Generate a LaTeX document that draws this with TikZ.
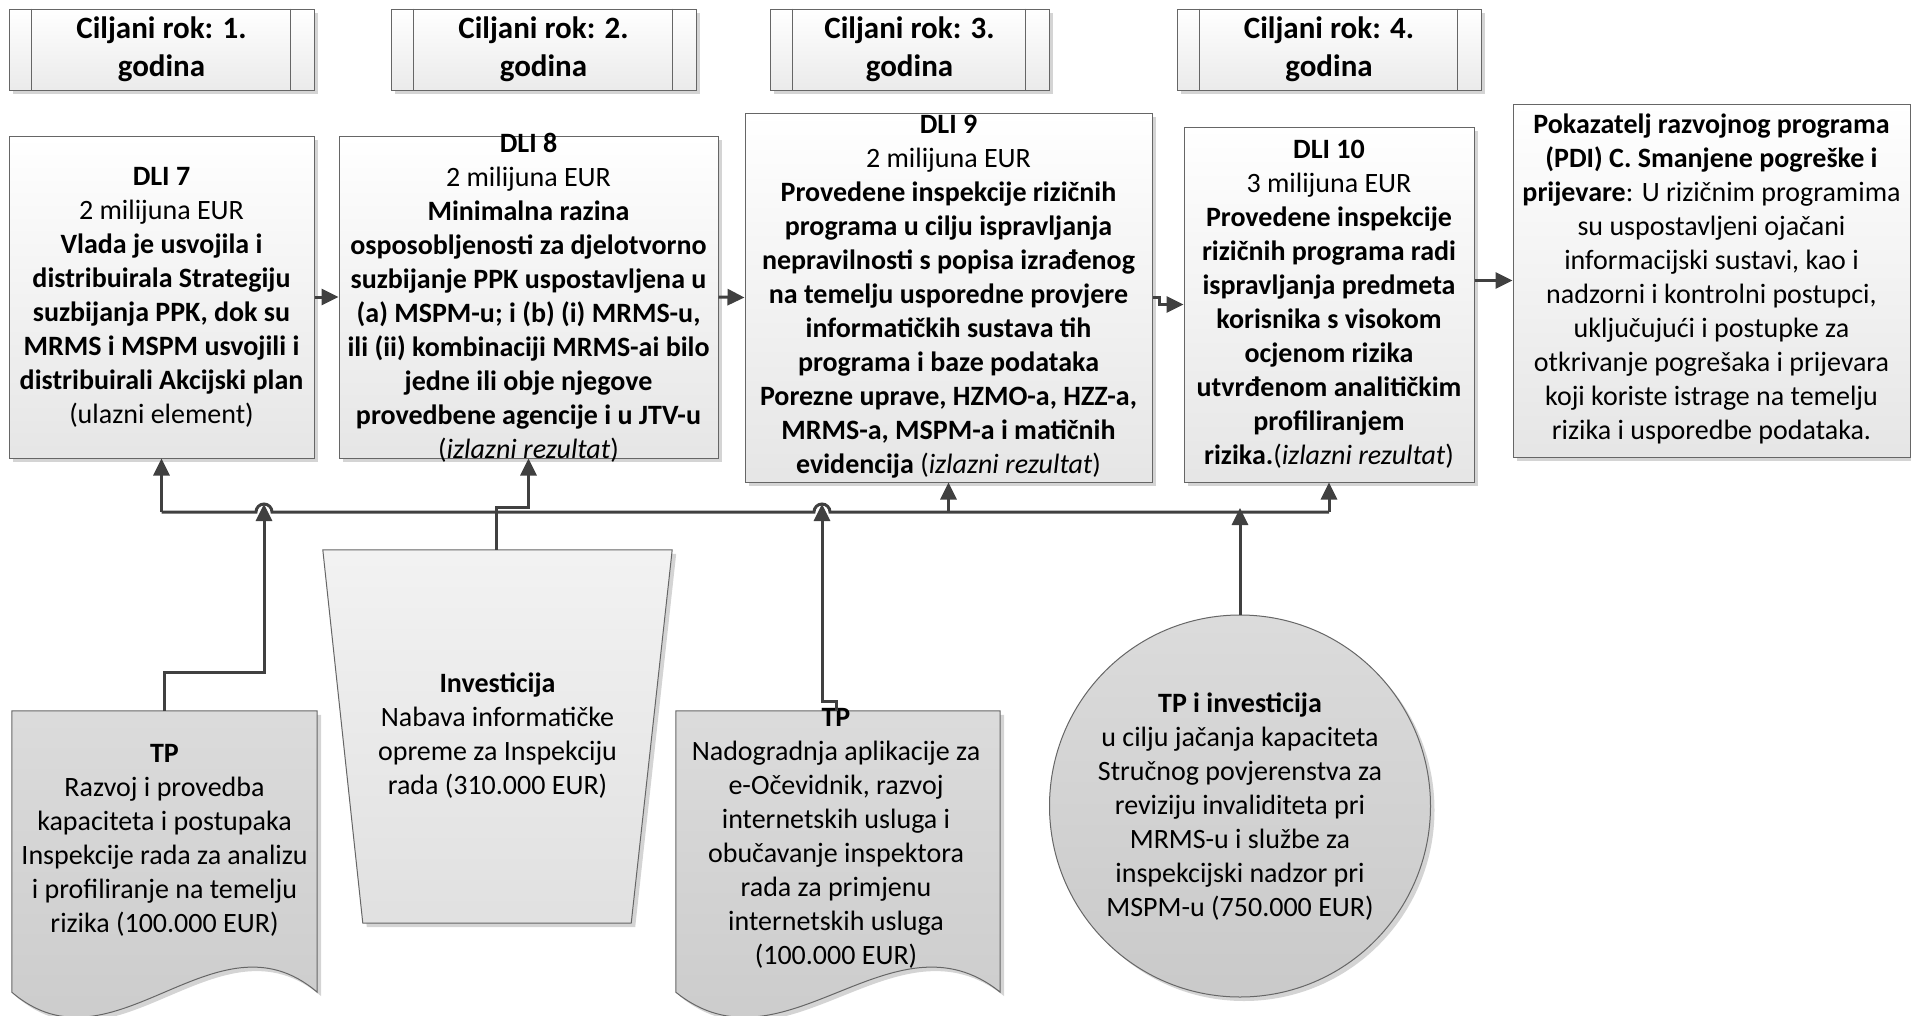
\documentclass[tikz,border=0pt]{standalone}
\usepackage{fontspec}
\setmainfont{Carlito}
\usetikzlibrary{arrows.meta,shapes.geometric,shadows}
\begin{document}
\begin{tikzpicture}[x=1pt,y=-1pt,
  shadowed/.style={drop shadow={fill=black!17, opacity=1, shadow xshift=4pt, shadow yshift=-4pt}},
  dlibox/.style={shadowed, draw=black!60, line width=1pt, top color=white, bottom color=black!10, inner sep=0pt},
  titlebox/.style={shadowed, draw=black!60, line width=1pt, top color=white, bottom color=black!8, inner sep=0pt, align=center, font=\fontsize{31}{38}\selectfont\bfseries},
  innerline/.style={draw=black!60, line width=1pt},
  txt/.style={align=center, inner sep=0pt, font=\fontsize{28}{34}\selectfont},
  darkshape/.style={draw=black!60, line width=1pt, top color=black!14, bottom color=black!21},
  conn/.style={draw=black!75, line width=3pt, -{Triangle[length=17pt,width=16pt]}},
  wire/.style={draw=black!75, line width=3pt},
]
\useasboundingbox (0,0) rectangle (1911,1015);

% ---- title boxes
\node[titlebox, minimum width=305pt, minimum height=81pt] (t1) at (161.5,49.5) {Ciljani rok: 1.\\godina};
\node[titlebox, minimum width=305pt, minimum height=81pt] (t2) at (543.5,49.5) {Ciljani rok: 2.\\godina};
\node[titlebox, minimum width=279pt, minimum height=81pt] (t3) at (909.5,49.5) {Ciljani rok: 3.\\godina};
\node[titlebox, minimum width=304pt, minimum height=81pt] (t4) at (1329,49.5) {Ciljani rok: 4.\\godina};
\foreach \t in {t1,t2,t3,t4}{
  \draw[innerline] ([xshift=23pt]\t.north west) -- ([xshift=23pt]\t.south west);
  \draw[innerline] ([xshift=-24pt]\t.north east) -- ([xshift=-24pt]\t.south east);
}

% ---- DLI boxes
\node[dlibox, minimum width=305pt, minimum height=322pt] (dli7) at (161.5,297) {};
\node[dlibox, minimum width=379pt, minimum height=322pt] (dli8) at (528.5,297) {};
\node[dlibox, minimum width=407pt, minimum height=369pt] (dli9) at (948.5,297.5) {};
\node[dlibox, minimum width=290pt, minimum height=355pt] (dli10) at (1329,304.5) {};
\node[dlibox, minimum width=397pt, minimum height=353pt] (pdi) at (1711.5,280.5) {};

\node[txt] (dli7t) at (161.5,297) {\textbf{DLI 7}\\2 milijuna EUR\\\textbf{Vlada je usvojila i}\\\textbf{distribuirala Strategiju}\\\textbf{suzbijanja PPK, dok su}\\\textbf{MRMS i MSPM usvojili i}\\\textbf{distribuirali Akcijski plan}\\(ulazni element)};
\node[txt] (dli8t) at (528.5,298) {\textbf{DLI 8}\\2 milijuna EUR\\\textbf{Minimalna razina}\\\textbf{osposobljenosti za djelotvorno}\\\textbf{suzbijanje PPK uspostavljena u}\\\textbf{(a) MSPM-u; i (b) (i) MRMS-u,}\\\textbf{ili (ii) kombinaciji MRMS-ai bilo}\\\textbf{jedne ili obje njegove}\\\textbf{provedbene agencije i u JTV-u}\\(\textit{izlazni rezultat})};
\node[txt] (dli9t) at (948.5,296.5) {\textbf{DLI 9}\\2 milijuna EUR\\\textbf{Provedene inspekcije rizičnih}\\\textbf{programa u cilju ispravljanja}\\\textbf{nepravilnosti s popisa izrađenog}\\\textbf{na temelju usporedne provjere}\\\textbf{informatičkih sustava tih}\\\textbf{programa i baze podataka}\\\textbf{Porezne uprave, HZMO-a, HZZ-a,}\\\textbf{MRMS-a, MSPM-a i matičnih}\\\textbf{evidencija} (\textit{izlazni rezultat})};
\node[txt] (dli10t) at (1329,304) {\textbf{DLI 10}\\3 milijuna EUR\\\textbf{Provedene inspekcije}\\\textbf{rizičnih programa radi}\\\textbf{ispravljanja predmeta}\\\textbf{korisnika s visokom}\\\textbf{ocjenom rizika}\\\textbf{utvrđenom analitičkim}\\\textbf{profiliranjem}\\\textbf{rizika.}(\textit{izlazni rezultat})};
\node[txt] (pdit) at (1711.5,279) {\textbf{Pokazatelj razvojnog programa}\\\textbf{(PDI) C. Smanjene pogreške i}\\\textbf{prijevare}: U rizičnim programima\\su uspostavljeni ojačani\\informacijski sustavi, kao i\\nadzorni i kontrolni postupci,\\uključujući i postupke za\\otkrivanje pogrešaka i prijevara\\koji koriste istrage na temelju\\rizika i usporedbe podataka.};

% ---- bottom shapes
\node[inner sep=0pt, minimum width=305pt, minimum height=281pt] (tp1) at (164.5,851.5) {};
\path[shadowed, darkshape] (tp1.north west) -- (tp1.north east) -- (tp1.south east)
  .. controls ([xshift=-101.7pt,yshift=87pt]tp1.south east) and ([xshift=101.7pt,yshift=-87pt]tp1.south west) .. (tp1.south west) -- cycle;
\node[txt] (tp1t) at (164.5,840.5) {\textbf{TP}\\Razvoj i provedba\\kapaciteta i postupaka\\Inspekcije rada za analizu\\i profiliranje na temelju\\rizika (100.000 EUR)};

\node[inner sep=0pt, minimum width=324pt, minimum height=281pt] (tp2) at (838,851.5) {};
\path[shadowed, darkshape] (tp2.north west) -- (tp2.north east) -- (tp2.south east)
  .. controls ([xshift=-108pt,yshift=87pt]tp2.south east) and ([xshift=108pt,yshift=-87pt]tp2.south west) .. (tp2.south west) -- cycle;
\node[txt] (tp2t) at (836,838.5) {\textbf{TP}\\Nadogradnja aplikacije za\\e-Očevidnik, razvoj\\internetskih usluga i\\obučavanje inspektora\\rada za primjenu\\internetskih usluga\\(100.000 EUR)};

\node[inner sep=0pt, minimum width=349pt, minimum height=373pt] (inv) at (497.5,736.5) {};
\path[shadowed, draw=black!60, line width=1pt, top color=black!5, bottom color=black!12]
  (inv.north west) -- (inv.north east) -- ([xshift=-41pt]inv.south east) -- ([xshift=40pt]inv.south west) -- cycle;
\node[txt] (invt) at (497.5,736) {\textbf{Investicija}\\Nabava informatičke\\opreme za Inspekciju\\rada (310.000 EUR)};

\node[ellipse, shadowed, darkshape, minimum width=381pt, minimum height=382pt, inner sep=0pt] (tpi) at (1240,806) {};
\node[txt] (tpit) at (1240,806.5) {\textbf{TP i investicija}\\u cilju jačanja kapaciteta\\Stručnog povjerenstva za\\reviziju invaliditeta pri\\MRMS-u i službe za\\inspekcijski nadzor pri\\MSPM-u (750.000 EUR)};

% ---- connectors
\coordinate (busL) at (161.5,512);
\coordinate (hop1) at (264,512);
\coordinate (hop2) at (822,512);
\coordinate (b9) at (948.5,512);
\coordinate (b11) at (1240,512);
\coordinate (busR) at (1329,512);

\draw[wire] (busL) -- ([xshift=-8pt]hop1) arc[start angle=180,end angle=0,radius=8pt]
  -- ([xshift=-8pt]hop2) arc[start angle=180,end angle=0,radius=8pt] -- (busR);

\draw[conn] (busL) -- (dli7.south);
\draw[conn] (b9) -- (dli9.south);
\draw[conn] (busR) -- (dli10.south);
\draw[conn] (tp1.north) -- ++(0,-38) -| ([yshift=8pt]hop1);
\draw[conn] ([xshift=-2pt]tp2.north) -- ++(0,-9) -| ([yshift=8pt]hop2);
\draw[conn] ([xshift=-1.5pt]inv.north) -- ++(0,-42) -| (dli8.south);
\draw[conn] (tpi.north) -- ([yshift=4pt]b11);

\draw[conn] (dli7.east) -- (dli8.west);
\draw[conn] (dli8.east) -- (dli9.west);
\draw[conn] (dli9.east) -- ++(7,0) |- (dli10.west);
\draw[conn] (dli10.east |- pdi.west) -- (pdi.west);
\end{tikzpicture}
\end{document}
